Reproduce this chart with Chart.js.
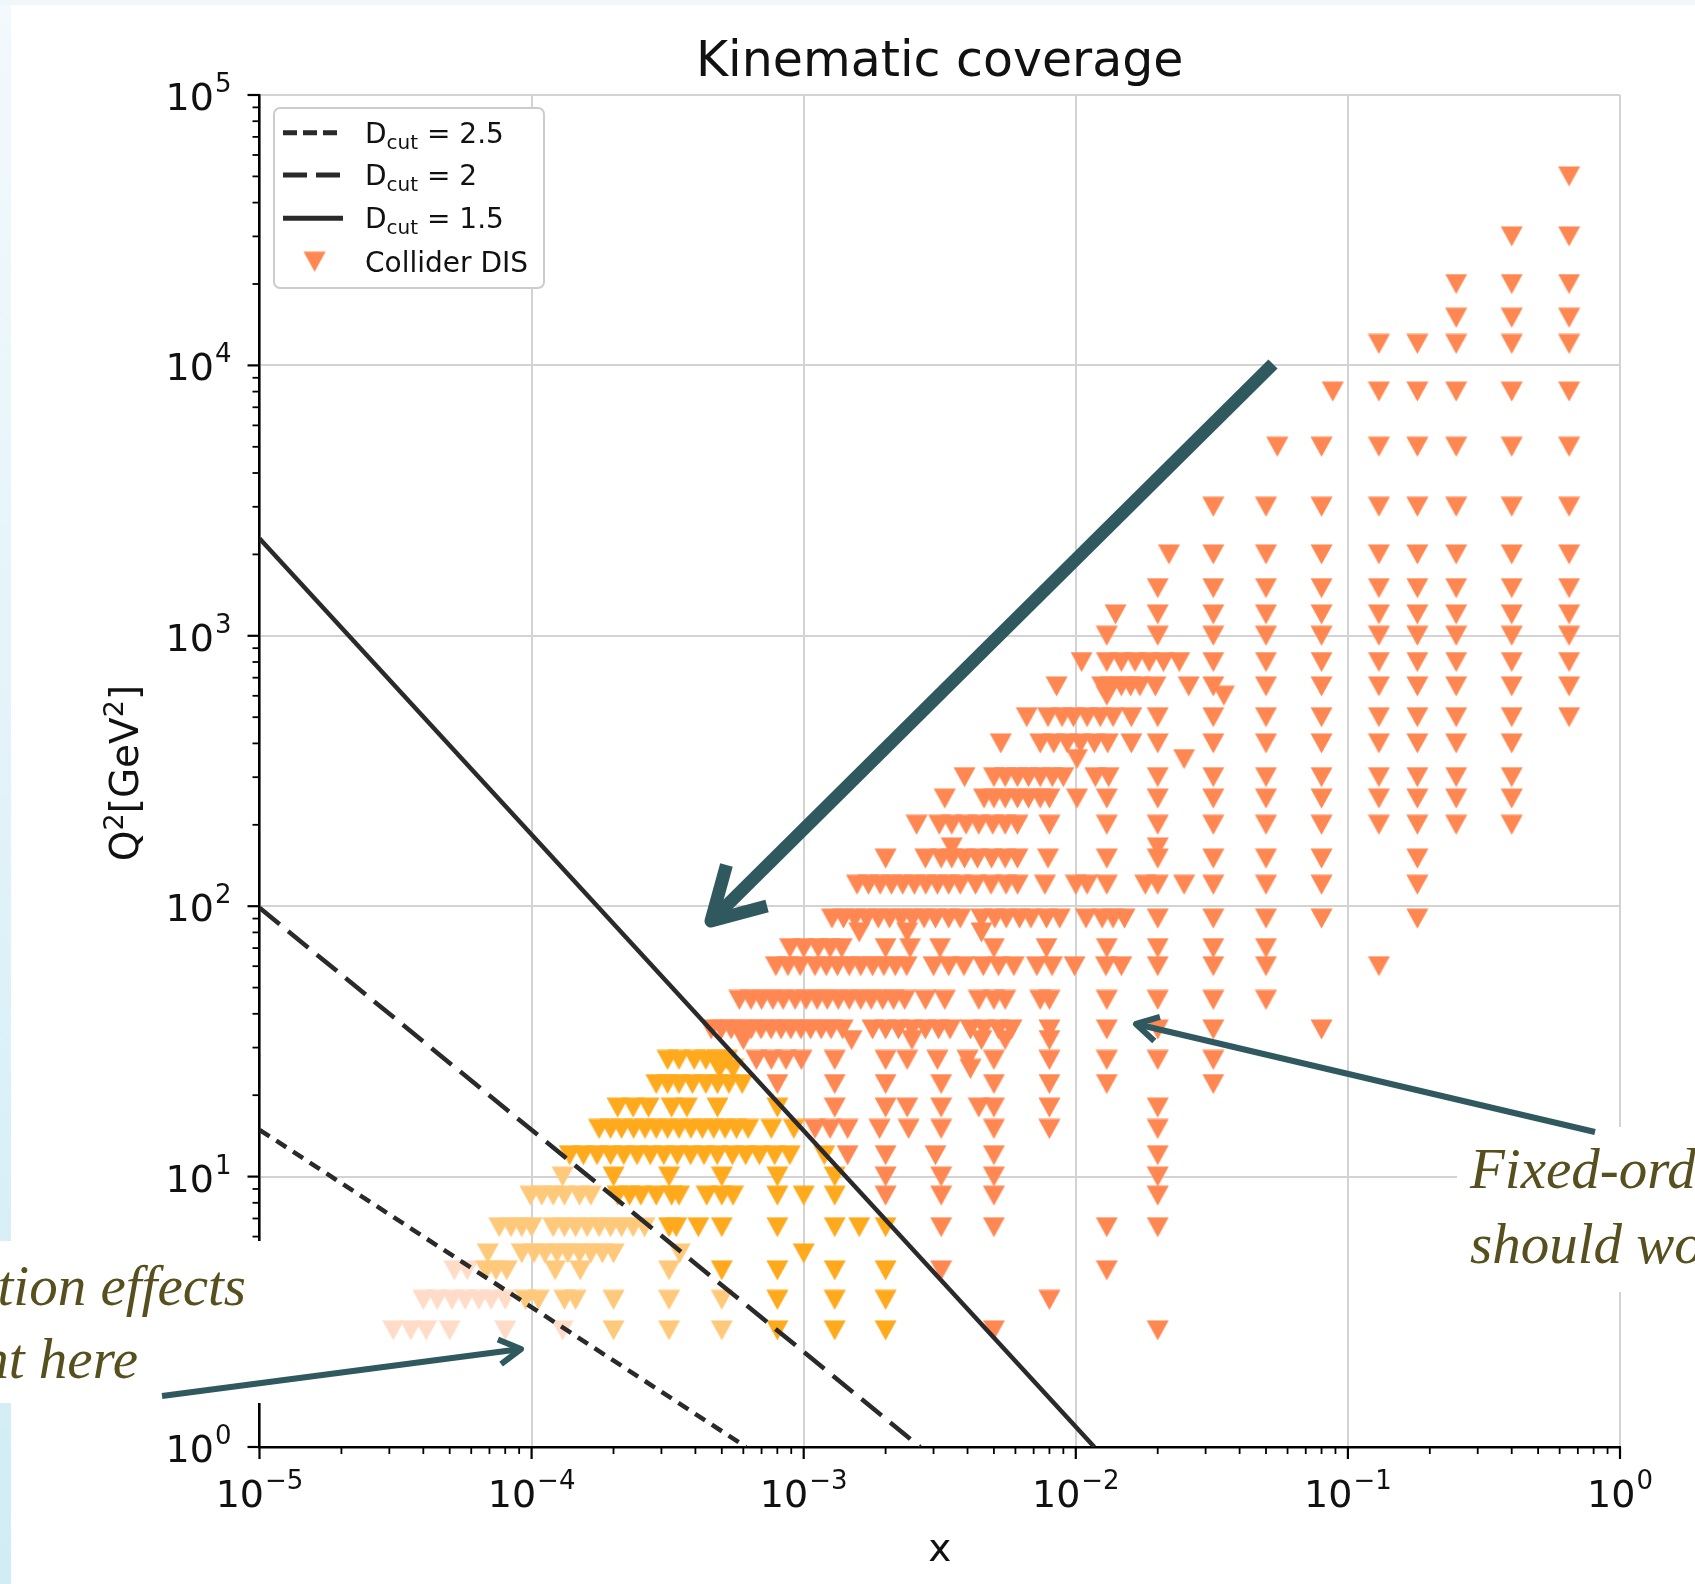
<!DOCTYPE html>
<html lang="en">
<head>
    <meta charset="utf-8">
    <title>Kinematic coverage</title>
    <script src="https://cdn.jsdelivr.net/npm/chart.js@4.4.1/dist/chart.umd.min.js"></script>
    <style>
        html, body { margin: 0; padding: 0; background: #ffffff; overflow: hidden; }
        canvas { display: block; }
    </style>
</head>
<body>
<canvas id="myChart" width="1695" height="1584"></canvas>
<script>
// decade tick exponents
const xTickExps = [-5, -4, -3, -2, -1, 0];
const yTickExps = [0, 1, 2, 3, 4, 5];

// D_cut lines (x, Q^2 end points)
const dcut25X = [1e-5, 6.14e-4];
const dcut25Q2 = [14.9, 1];
const dcut2X = [1e-5, 2.68e-3];
const dcut2Q2 = [98.6, 1];
const dcut15X = [1e-5, 1.17e-2];
const dcut15Q2 = [2290, 1];

// Collider DIS points: Q^2 bins and the x values found in each bin
const q2Bins = [2.7, 3.5, 4.5, 5.2, 6.5, 8.5, 10, 12, 15, 18, 22, 25, 27, 32, 35, 45, 60, 70, 80, 90,
    120, 150, 165, 200, 250, 300, 350, 400, 500, 600, 650, 800, 1000, 1200, 1500, 2000, 3000, 5000,
    8000, 12000, 15000, 20000, 30000, 50000];
const xByBin = [
    [3.1e-5, 3.6e-5, 4.1e-5, 5e-5, 8e-5, 1.3e-4, 2e-4, 3.2e-4, 5e-4, 8e-4, 1.3e-3, 2e-3, 5e-3, 2e-2],
    [4.0e-5, 4.5e-5, 5.1e-5, 5.7e-5, 6.4e-5, 7.1e-5, 8e-5, 9.5e-5, 1.06e-4, 1.32e-4, 1.45e-4, 2e-4, 3.2e-4, 5e-4, 8e-4, 1.3e-3, 2e-3, 8e-3],
    [5.2e-5, 5.8e-5, 6.8e-5, 7.4e-5, 8.1e-5, 1.22e-4, 1.51e-4, 3.2e-4, 5e-4, 8e-4, 1.3e-3, 2e-3, 3.2e-3, 1.3e-2],
    [6.9e-5, 9.2e-5, 1.02e-4, 1.12e-4, 1.24e-4, 1.36e-4, 1.5e-4, 1.65e-4, 1.82e-4, 2e-4, 3.5e-4, 1e-3],
    [7.6e-5, 8.4e-5, 9.2e-5, 1.0e-4, 1.2e-4, 1.32e-4, 1.45e-4, 1.6e-4, 1.77e-4, 1.95e-4, 2.14e-4, 2.36e-4, 2.6e-4, 3.2e-4, 3.4e-4, 4.1e-4, 5e-4, 8e-4, 1.3e-3, 1.6e-3, 2e-3, 3.2e-3, 5e-3, 1.3e-2, 2e-2],
    [9.9e-5, 1.09e-4, 1.2e-4, 1.32e-4, 1.5e-4, 1.65e-4, 2.07e-4, 2.29e-4, 2.52e-4, 2.87e-4, 3.27e-4, 3.48e-4, 4.4e-4, 5e-4, 5.5e-4, 8e-4, 1.0e-3, 1.3e-3, 2e-3, 3.2e-3, 5e-3, 2e-2],
    [1.3e-4, 2e-4, 3.2e-4, 5e-4, 8e-4, 1.3e-3, 2e-3, 3.2e-3, 5e-3, 2e-2],
    [1.38e-4, 1.55e-4, 1.74e-4, 1.95e-4, 2.18e-4, 2.44e-4, 2.73e-4, 3.06e-4, 3.43e-4, 3.84e-4, 4.3e-4, 4.81e-4, 5.47e-4, 6.12e-4, 6.87e-4, 7.82e-4, 8.89e-4, 1.19e-3, 1.45e-3, 2e-3, 3.05e-3, 5e-3, 2e-2],
    [1.77e-4, 1.95e-4, 2.14e-4, 2.37e-4, 2.61e-4, 2.87e-4, 3.16e-4, 3.48e-4, 3.85e-4, 4.24e-4, 4.67e-4, 5.14e-4, 5.66e-4, 6.25e-4, 7.6e-4, 9.2e-4, 1.1e-3, 1.25e-3, 1.45e-3, 1.9e-3, 2.43e-3, 3.2e-3, 5e-3, 8e-3, 2e-2],
    [2.07e-4, 2.36e-4, 2.69e-4, 3.27e-4, 3.72e-4, 4.82e-4, 8e-4, 1.3e-3, 2e-3, 2.4e-3, 3.2e-3, 4.4e-3, 5e-3, 8e-3, 2e-2],
    [2.87e-4, 3.16e-4, 3.48e-4, 3.9e-4, 4.37e-4, 4.82e-4, 5.31e-4, 5.94e-4, 8e-4, 1.3e-3, 2e-3, 3.2e-3, 5e-3, 8e-3, 1.3e-2, 3.2e-2],
    [4.9e-4, 5.5e-4, 4.1e-3],
    [3.16e-4, 3.48e-4, 3.96e-4, 4.37e-4, 4.82e-4, 5.22e-4, 6.7e-4, 7.6e-4, 8.6e-4, 9.8e-4, 1.3e-3, 2e-3, 2.4e-3, 3.1e-3, 4e-3, 5e-3, 8e-3, 1.3e-2, 2e-2, 3.2e-2],
    [6e-4, 1.5e-3, 2.5e-3, 4.5e-3, 5.5e-3, 8e-3],
    [4.57e-4, 4.98e-4, 5.41e-4, 5.89e-4, 6.41e-4, 6.97e-4, 7.59e-4, 8.26e-4, 8.97e-4, 9.77e-4, 1.06e-3, 1.16e-3, 1.26e-3, 1.39e-3, 1.79e-3, 2e-3, 2.23e-3, 2.5e-3, 2.8e-3, 3.13e-3, 3.45e-3, 4.1e-3, 4.6e-3, 5.2e-3, 5.8e-3, 8e-3, 1.3e-2, 2e-2, 3.2e-2, 8e-2],
    [5.8e-4, 6.4e-4, 7.0e-4, 7.7e-4, 8.4e-4, 9.3e-4, 1.02e-3, 1.12e-3, 1.22e-3, 1.34e-3, 1.47e-3, 1.62e-3, 1.77e-3, 1.95e-3, 2.14e-3, 2.35e-3, 2.8e-3, 3.3e-3, 4.4e-3, 5e-3, 5.5e-3, 7.4e-3, 8e-3, 1.3e-2, 2e-2, 3.2e-2, 5e-2],
    [7.9e-4, 8.75e-4, 9.7e-4, 1.1e-3, 1.21e-3, 1.33e-3, 1.47e-3, 1.62e-3, 1.79e-3, 1.97e-3, 2.17e-3, 2.39e-3, 3.0e-3, 3.41e-3, 3.88e-3, 4.57e-3, 5.2e-3, 5.92e-3, 7.19e-3, 8.18e-3, 9.9e-3, 1.29e-2, 1.47e-2, 2e-2, 3.2e-2, 5e-2, 0.13],
    [8.9e-4, 1e-3, 1.13e-3, 1.25e-3, 1.38e-3, 2e-3, 2.46e-3, 3.17e-3, 5e-3, 7.8e-3, 1.3e-2, 2e-2, 3.2e-2, 5e-2],
    [1.6e-3, 2.4e-3, 4.5e-3],
    [1.27e-3, 1.4e-3, 1.54e-3, 1.7e-3, 1.88e-3, 2.07e-3, 2.28e-3, 2.51e-3, 2.77e-3, 3.05e-3, 3.41e-3, 3.76e-3, 4.5e-3, 5.04e-3, 5.55e-3, 6.21e-3, 6.84e-3, 7.8e-3, 8.73e-3, 1.09e-2, 1.25e-2, 1.37e-2, 1.51e-2, 2e-2, 3.2e-2, 5e-2, 8e-2, 0.18],
    [1.57e-3, 1.73e-3, 1.91e-3, 2.1e-3, 2.31e-3, 2.55e-3, 2.81e-3, 3.1e-3, 3.41e-3, 3.76e-3, 4.28e-3, 4.88e-3, 5.54e-3, 6.11e-3, 7.7e-3, 1e-2, 1.1e-2, 1.3e-2, 1.8e-2, 2e-2, 2.5e-2, 3.2e-2, 5e-2, 8e-2, 0.18],
    [2e-3, 2.8e-3, 3.2e-3, 3.5e-3, 3.9e-3, 4.35e-3, 4.9e-3, 5.5e-3, 6.1e-3, 7.9e-3, 1.3e-2, 2e-2, 3.2e-2, 5e-2, 8e-2, 0.18],
    [3.5e-3, 2e-2],
    [2.6e-3, 3.15e-3, 3.5e-3, 3.95e-3, 4.4e-3, 4.95e-3, 5.5e-3, 6.1e-3, 8e-3, 1.3e-2, 2e-2, 3.2e-2, 5e-2, 8e-2, 0.13, 0.18, 0.25, 0.4],
    [3.3e-3, 4.6e-3, 5e-3, 5.5e-3, 6.1e-3, 6.7e-3, 7.4e-3, 8e-3, 1.01e-2, 1.3e-2, 2e-2, 3.2e-2, 5e-2, 8e-2, 0.13, 0.18, 0.25, 0.4],
    [3.9e-3, 5e-3, 5.5e-3, 6.1e-3, 6.7e-3, 7.4e-3, 8.2e-3, 9e-3, 1.18e-2, 1.32e-2, 2e-2, 3.2e-2, 5e-2, 8e-2, 0.13, 0.18, 0.25, 0.4],
    [1.01e-2, 2.5e-2],
    [5.3e-3, 7.4e-3, 8.3e-3, 9.3e-3, 1.04e-2, 1.17e-2, 1.31e-2, 1.6e-2, 2e-2, 3.2e-2, 5e-2, 8e-2, 0.13, 0.18, 0.25, 0.4],
    [6.6e-3, 7.9e-3, 8.9e-3, 9.8e-3, 1.1e-2, 1.23e-2, 1.37e-2, 1.6e-2, 2e-2, 3.2e-2, 5e-2, 8e-2, 0.13, 0.18, 0.25, 0.4, 0.65],
    [1.3e-2, 3.5e-2],
    [8.5e-3, 1.25e-2, 1.35e-2, 1.47e-2, 1.59e-2, 1.72e-2, 1.96e-2, 2.6e-2, 3.2e-2, 5e-2, 8e-2, 0.13, 0.18, 0.25, 0.4, 0.65],
    [1.05e-2, 1.3e-2, 1.47e-2, 1.65e-2, 1.86e-2, 2.1e-2, 2.4e-2, 3.2e-2, 5e-2, 8e-2, 0.13, 0.18, 0.25, 0.4, 0.65],
    [1.3e-2, 2e-2, 3.2e-2, 5e-2, 8e-2, 0.13, 0.18, 0.25, 0.4, 0.65],
    [1.4e-2, 2e-2, 3.2e-2, 5e-2, 8e-2, 0.13, 0.18, 0.25, 0.4, 0.65],
    [2e-2, 3.2e-2, 5e-2, 8e-2, 0.13, 0.18, 0.25, 0.4, 0.65],
    [2.2e-2, 3.2e-2, 5e-2, 8e-2, 0.13, 0.18, 0.25, 0.4, 0.65],
    [3.2e-2, 5e-2, 8e-2, 0.13, 0.18, 0.25, 0.4, 0.65],
    [5.5e-2, 8e-2, 0.13, 0.18, 0.25, 0.4, 0.65],
    [8.8e-2, 0.13, 0.18, 0.25, 0.4, 0.65],
    [0.13, 0.18, 0.25, 0.4, 0.65],
    [0.25, 0.4, 0.65],
    [0.25, 0.4, 0.65],
    [0.4, 0.65],
    [0.65]
];

const coral = '#ff8752';
const orange = '#ffa91c';
const lightOrange = '#ffc97c';
const peach = '#ffdcc8';
const lineColor = '#2a2a2a';
const arrowColor = '#2f595e';
const noteColor = '#57501e';

// matplotlib style 'v' marker
function triangle(color) {
    const c = document.createElement('canvas');
    c.width = 23;
    c.height = 21;
    const g = c.getContext('2d');
    g.fillStyle = color;
    g.beginPath();
    g.moveTo(0.5, 0.5);
    g.lineTo(22.5, 0.5);
    g.lineTo(11.5, 20.5);
    g.closePath();
    g.fill();
    return c;
}

function cutLogQ(xs, qs, x) {
    const x0 = Math.log10(xs[0]), x1 = Math.log10(xs[1]);
    const q0 = Math.log10(qs[0]), q1 = Math.log10(qs[1]);
    return q0 + (q1 - q0) * (Math.log10(x) - x0) / (x1 - x0);
}

// colour each point by the D_cut region it falls in
const groups = { coral: [], orange: [], light: [], peach: [] };
q2Bins.forEach((q2, i) => {
    xByBin[i].forEach(x => {
        const lq = Math.log10(q2);
        let g = 'peach';
        if (lq >= cutLogQ(dcut15X, dcut15Q2, x)) g = 'coral';
        else if (lq >= cutLogQ(dcut2X, dcut2Q2, x)) g = 'orange';
        else if (lq >= cutLogQ(dcut25X, dcut25Q2, x)) g = 'light';
        groups[g].push({ x: x, y: q2 });
    });
});

const lineData = (xs, qs) => xs.map((x, i) => ({ x: x, y: qs[i] }));

function pointSet(label, data, color) {
    return {
        label: label,
        data: data,
        pointStyle: triangle(color),
        pointRadius: 10,
        showLine: false,
        order: 1
    };
}

function lineSet(label, xs, qs, dash) {
    return {
        label: label,
        data: lineData(xs, qs),
        showLine: true,
        borderColor: lineColor,
        borderWidth: 4.5,
        borderDash: dash,
        pointRadius: 0,
        fill: false,
        order: 0
    };
}

function drawPow(ctx, exp, x, baseY, mode) {
    const base = '10';
    const sup = exp < 0 ? '\u2212' + (-exp) : String(exp);
    ctx.font = '38px "DejaVu Sans"';
    const wb = ctx.measureText(base).width;
    ctx.font = '26px "DejaVu Sans"';
    const ws = ctx.measureText(sup).width;
    const total = wb + ws + 1;
    const left = mode === 'center' ? x - total / 2 : x - total;
    ctx.textAlign = 'left';
    ctx.textBaseline = 'alphabetic';
    ctx.font = '38px "DejaVu Sans"';
    ctx.fillText(base, left, baseY);
    ctx.font = '26px "DejaVu Sans"';
    ctx.fillText(sup, left + wb + 1, baseY - 18);
}

function drawArrow(ctx, x0, y0, x1, y1, width, head) {
    const a = Math.atan2(y0 - y1, x0 - x1);
    ctx.save();
    ctx.strokeStyle = arrowColor;
    ctx.lineWidth = width;
    ctx.lineCap = 'butt';
    ctx.beginPath();
    ctx.moveTo(x0, y0);
    ctx.lineTo(x1, y1);
    ctx.stroke();
    ctx.lineJoin = 'round';
    ctx.beginPath();
    ctx.moveTo(x1 + head * Math.cos(a + 0.52), y1 + head * Math.sin(a + 0.52));
    ctx.lineTo(x1, y1);
    ctx.lineTo(x1 + head * Math.cos(a - 0.52), y1 + head * Math.sin(a - 0.52));
    ctx.stroke();
    ctx.restore();
}

const decorations = {
    id: 'decorations',
    beforeDraw(chart) {
        const ctx = chart.ctx;
        ctx.save();
        ctx.fillStyle = '#ffffff';
        ctx.fillRect(0, 0, chart.width, chart.height);
        const grad = ctx.createLinearGradient(0, 0, 0, chart.height);
        grad.addColorStop(0, '#f3f9fc');
        grad.addColorStop(1, '#d0ecf5');
        ctx.fillStyle = grad;
        ctx.fillRect(0, 0, 11, chart.height);
        ctx.fillStyle = '#eff7fa';
        ctx.fillRect(0, 0, chart.width, 5);
        ctx.restore();
    },
    afterDraw(chart) {
        const ctx = chart.ctx;
        const area = chart.chartArea;
        const xs = chart.scales.x, ys = chart.scales.y;
        ctx.save();

        // ticks
        ctx.strokeStyle = '#000000';
        yTickExps.forEach((e, i) => {
            const y = ys.getPixelForValue(Math.pow(10, e));
            ctx.lineWidth = 2.2;
            ctx.beginPath(); ctx.moveTo(area.left - 12, y); ctx.lineTo(area.left, y); ctx.stroke();
            if (i < yTickExps.length - 1) {
                for (let m = 2; m <= 9; m++) {
                    const ym = ys.getPixelForValue(m * Math.pow(10, e));
                    ctx.lineWidth = 1.8;
                    ctx.beginPath(); ctx.moveTo(area.left - 7, ym); ctx.lineTo(area.left, ym); ctx.stroke();
                }
            }
        });
        xTickExps.forEach((e, i) => {
            const x = xs.getPixelForValue(Math.pow(10, e));
            ctx.lineWidth = 2.2;
            ctx.beginPath(); ctx.moveTo(x, area.bottom); ctx.lineTo(x, area.bottom + 12); ctx.stroke();
            if (i < xTickExps.length - 1) {
                for (let m = 2; m <= 9; m++) {
                    const xm = xs.getPixelForValue(m * Math.pow(10, e));
                    ctx.lineWidth = 1.8;
                    ctx.beginPath(); ctx.moveTo(xm, area.bottom); ctx.lineTo(xm, area.bottom + 7); ctx.stroke();
                }
            }
        });

        // tick labels
        ctx.fillStyle = '#111111';
        yTickExps.forEach(e => drawPow(ctx, e, area.left - 28, ys.getPixelForValue(Math.pow(10, e)) + 15, 'right'));
        xTickExps.forEach(e => drawPow(ctx, e, xs.getPixelForValue(Math.pow(10, e)), area.bottom + 60, 'center'));

        // title and axis labels
        ctx.textAlign = 'center';
        ctx.font = '49px "DejaVu Sans"';
        ctx.fillText('Kinematic coverage', (area.left + area.right) / 2, 76);
        ctx.font = '39px "DejaVu Sans"';
        ctx.fillText('x', (area.left + area.right) / 2, 1561);

        ctx.save();
        ctx.translate(138, 773);
        ctx.rotate(-Math.PI / 2);
        const parts = [['Q', false], ['2', true], ['[GeV', false], ['2', true], [']', false]];
        let tw = 0;
        parts.forEach(p => {
            ctx.font = p[1] ? '27px "DejaVu Sans"' : '39px "DejaVu Sans"';
            tw += ctx.measureText(p[0]).width;
        });
        let px = -tw / 2;
        ctx.textAlign = 'left';
        parts.forEach(p => {
            ctx.font = p[1] ? '27px "DejaVu Sans"' : '39px "DejaVu Sans"';
            ctx.fillText(p[0], px, p[1] ? -15 : 0);
            px += ctx.measureText(p[0]).width;
        });
        ctx.restore();

        // legend
        ctx.fillStyle = '#ffffff';
        ctx.strokeStyle = '#cccccc';
        ctx.lineWidth = 2;
        ctx.beginPath();
        ctx.roundRect(274, 108, 270, 180, 6);
        ctx.fill();
        ctx.stroke();
        const entries = [
            { y: 132.7, dash: [14, 6], value: '2.5' },
            { y: 175, dash: [24, 9], value: '2' },
            { y: 218.3, dash: [], value: '1.5' }
        ];
        entries.forEach(en => {
            ctx.strokeStyle = lineColor;
            ctx.lineWidth = 5;
            ctx.setLineDash(en.dash);
            ctx.beginPath(); ctx.moveTo(283, en.y); ctx.lineTo(343, en.y); ctx.stroke();
            ctx.setLineDash([]);
            ctx.fillStyle = '#111111';
            ctx.textAlign = 'left';
            let tx = 365;
            ctx.font = '28px "DejaVu Sans"';
            ctx.fillText('D', tx, en.y + 10);
            tx += ctx.measureText('D').width;
            ctx.font = '20px "DejaVu Sans"';
            ctx.fillText('cut', tx, en.y + 16);
            tx += ctx.measureText('cut').width;
            ctx.font = '28px "DejaVu Sans"';
            ctx.fillText(' = ' + en.value, tx, en.y + 10);
        });
        const tri = triangle(coral);
        ctx.drawImage(tri, 314.6 - 11.5, 261.7 - 10.5);
        ctx.fillStyle = '#111111';
        ctx.font = '28px "DejaVu Sans"';
        ctx.fillText('Collider DIS', 365, 271.7);

        // slide overlays: note boxes
        ctx.fillStyle = '#ffffff';
        ctx.fillRect(0, 1241, 265, 162);
        ctx.fillRect(1457, 1127, 238, 165);
        ctx.fillStyle = noteColor;
        ctx.font = 'italic 57px "Liberation Serif"';
        ctx.textAlign = 'right';
        ctx.fillText('ation effects', 246, 1305);
        ctx.fillText('ant here', 138, 1378);
        ctx.textAlign = 'left';
        ctx.fillText('Fixed-order', 1470, 1188);
        ctx.fillText('should work', 1470, 1263);

        // arrows
        drawArrow(ctx, 1273, 364, 711, 921, 13, 58);
        drawArrow(ctx, 162, 1396, 521, 1349, 6, 25);
        drawArrow(ctx, 1595, 1132, 1136, 1024, 6, 25);

        ctx.restore();
    }
};

new Chart('myChart', {
    type: 'scatter',
    data: {
        datasets: [
            lineSet('Dcut = 2.5', dcut25X, dcut25Q2, [12, 8]),
            lineSet('Dcut = 2', dcut2X, dcut2Q2, [26, 11]),
            lineSet('Dcut = 1.5', dcut15X, dcut15Q2, []),
            pointSet('Collider DIS', groups.coral, coral),
            pointSet('D > 1.5', groups.orange, orange),
            pointSet('D > 2', groups.light, lightOrange),
            pointSet('D > 2.5', groups.peach, peach)
        ]
    },
    options: {
        responsive: false,
        animation: false,
        devicePixelRatio: 1,
        events: [],
        layout: { padding: { left: 259.5, right: 75, top: 95, bottom: 137 } },
        plugins: { legend: { display: false }, tooltip: { enabled: false } },
        scales: {
            x: {
                type: 'logarithmic',
                min: 1e-5,
                max: 1,
                afterBuildTicks: axis => { axis.ticks = xTickExps.map(e => ({ value: Math.pow(10, e) })); },
                afterFit: axis => { axis.height = 0; },
                ticks: { display: false },
                grid: { color: '#d3d3d3', lineWidth: 2, drawTicks: false },
                border: { display: true, color: '#000000', width: 2.5 }
            },
            y: {
                type: 'logarithmic',
                min: 1,
                max: 1e5,
                afterBuildTicks: axis => { axis.ticks = yTickExps.map(e => ({ value: Math.pow(10, e) })); },
                afterFit: axis => { axis.width = 0; },
                ticks: { display: false },
                grid: { color: '#d3d3d3', lineWidth: 2, drawTicks: false },
                border: { display: true, color: '#000000', width: 2.5 }
            }
        }
    },
    plugins: [decorations]
});
</script>
</body>
</html>
